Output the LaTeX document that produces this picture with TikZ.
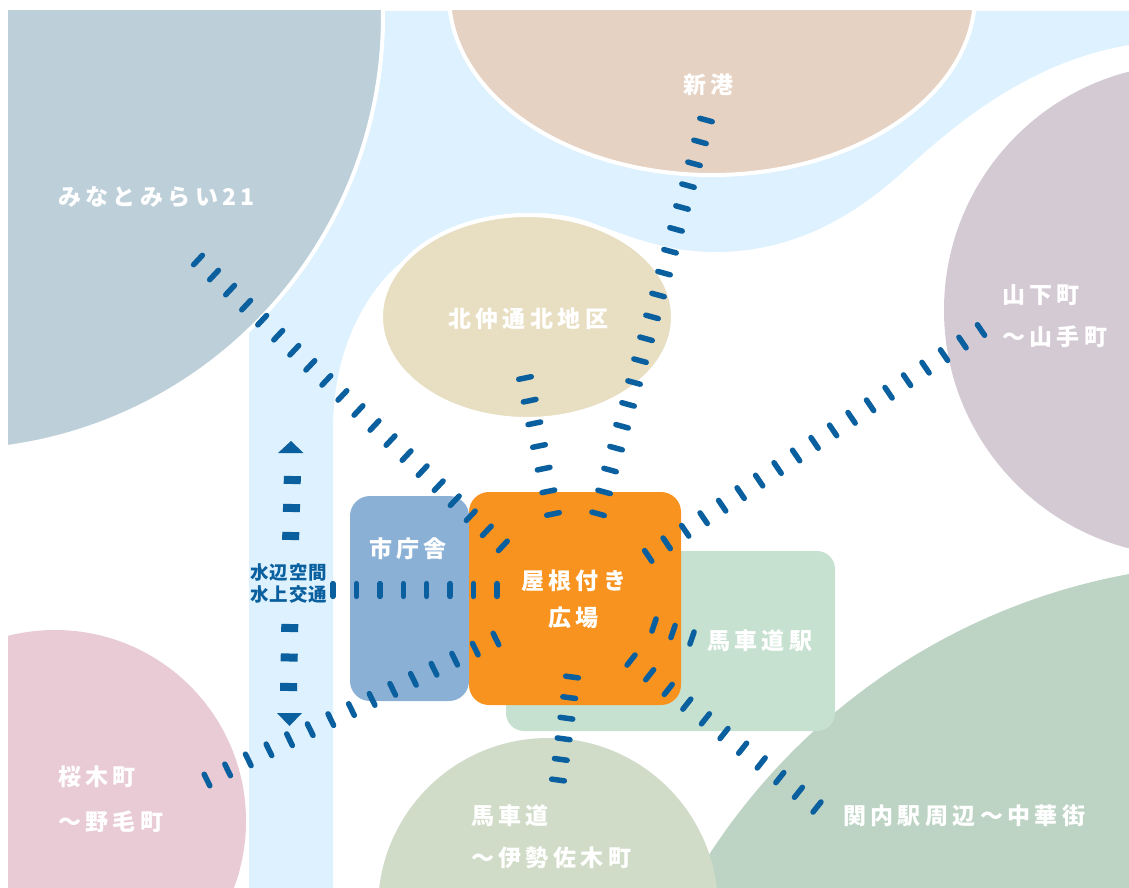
\documentclass[tikz,border=0pt]{standalone}
\usepackage{fontspec}
\usetikzlibrary{decorations.markings}
\newfontfamily\jplabel[LetterSpace=19]{Noto Sans CJK JP}
\newfontfamily\jpwater[LetterSpace=5]{Noto Sans CJK JP}
\definecolor{riverblue}{HTML}{DDF1FE}
\definecolor{mmcol}{HTML}{BDCFD9}
\definecolor{portcol}{HTML}{E6D2C2}
\definecolor{northcol}{HTML}{E8DEC2}
\definecolor{hillcol}{HTML}{D4CAD4}
\definecolor{pinkcol}{HTML}{E8CBD4}
\definecolor{stationcol}{HTML}{C7E1D1}
\definecolor{kannaicol}{HTML}{BDD4C5}
\definecolor{bashacol}{HTML}{D1DCC8}
\definecolor{hallcol}{HTML}{8AB0D5}
\definecolor{plazacol}{HTML}{F7931E}
\definecolor{tiecol}{HTML}{0A5F9E}
\tikzset{
	area/.style={draw=white, line width=4pt},
	block/.style={rounded corners=20pt},
	lbl/.style={text=white, inner sep=0pt, font=\jplabel\bfseries\fontsize{23}{23}\selectfont},
	wlbl/.style={text=tiecol, inner sep=0pt, font=\jpwater\bfseries\fontsize{18.5}{18.5}\selectfont},
	ties/.style={decoration={markings, mark=between positions 0 and 1 step {1/#1-0.00001} with {\draw[tiecol, line width=5.5pt, line cap=round] (0,-6.4) -- (0,6.4);}}, postaction={decorate}},
	wdash/.style={tiecol, line width=17pt},
}
\begin{document}
\begin{tikzpicture}[x=1pt,y=-1pt]
	\useasboundingbox (0,0) rectangle (1129,888);
	\begin{scope}
		\clip (8,11) rectangle (1129,888);
		\fill[riverblue] (249,888) -- (249,11) -- (1129,11) -- (1129,45)
			.. controls (1040,60) and (970,110) .. (905,170)
			.. controls (850,220) and (790,252) .. (715,252)
			.. controls (665,252) and (625,235) .. (590,222)
			.. controls (570,215) and (550,213) .. (530,213)
			.. controls (460,213) and (410,250) .. (383,280)
			.. controls (350,320) and (333,370) .. (333,430) -- (333,888) -- cycle;
		\draw[area, fill=mmcol] (-52,16) circle [radius=435];
		\draw[area, fill=portcol] (712,-5) ellipse [x radius=263, y radius=180];
		\draw[area, fill=northcol] (527,317) ellipse [x radius=146, y radius=102];
		\fill[hillcol] (1190,310) circle [radius=246];
		\fill[pinkcol] (55,821) circle [radius=191];
		\fill[kannaicol] (1244.6,1201.6) circle [radius=638];
		\fill[bashacol] (548,908) circle [radius=170];
		\fill[stationcol, rounded corners=18pt] (506,551) rectangle (835,731);
		\fill[hallcol, block] (350,496) rectangle (469,701);
		\fill[plazacol, block] (469,492) rectangle (681,705);
	\end{scope}
	
	\coordinate (mmEnd) at (198,260);
	\coordinate (mmHub) at (503,546);
	\coordinate (portEnd) at (706,120);
	\coordinate (portHub) at (598,514);
	\coordinate (northEnd) at (525,378);
	\coordinate (northHub) at (553,514);
	\coordinate (hillEnd) at (981,330);
	\coordinate (hillHub) at (648,556);
	\coordinate (stationEnd) at (692,638);
	\coordinate (stationHub) at (654,625);
	\coordinate (kannaiEnd) at (817,807);
	\coordinate (kannaiHub) at (631,660);
	\coordinate (bashaEnd) at (558,780);
	\coordinate (bashaHub) at (572,677);
	\coordinate (pinkEnd) at (207,780);
	\coordinate (pinkHub) at (496,639);
	\coordinate (waterEnd) at (333,590);
	\coordinate (waterHub) at (497,590);
	\path[ties=19] (mmEnd) -- (mmHub);
	\path[ties=18] (portEnd) -- (portHub);
	\path[ties=6] (northEnd) -- (northHub);
	\path[ties=18] (hillEnd) -- (hillHub);
	\path[ties=2] (stationEnd) -- (stationHub);
	\path[ties=10] (kannaiEnd) -- (kannaiHub);
	\path[ties=5] (bashaEnd) -- (bashaHub);
	\path[ties=14] (pinkEnd) -- (pinkHub);
	\path[ties=7] (waterEnd) -- (waterHub);
	
	\coordinate (upA) at (292.4,476);
	\coordinate (upB) at (290.6,540);
	\coordinate (downA) at (289.8,624);
	\coordinate (downB) at (288.6,691);
	\draw[wdash, dash pattern=on 8pt off 20pt] (upA) -- (upB);
	\draw[wdash, dash pattern=on 8pt off 21.5pt] (downA) -- (downB);
	\fill[tiecol] (278,453) -- (291,441) -- (303.5,453) -- cycle;
	\fill[tiecol] (277,713) -- (289.5,726) -- (302,713) -- cycle;
	
	\node[lbl, anchor=west] (mm) at (58,197) {みなとみらい21};
	\node[lbl, anchor=west] (port) at (683,85) {新港};
	\node[lbl, anchor=west] (north) at (448,319) {北仲通北地区};
	\node[lbl, anchor=west] (hillA) at (1002,295) {山下町};
	\node[lbl, anchor=west] (hillB) at (1002,337) {～山手町};
	\node[lbl, anchor=west] (hall) at (369,549) {市庁舎};
	\node[lbl, anchor=west] (plazaA) at (521,581) {屋根付き};
	\node[lbl, anchor=west] (plazaB) at (548,618) {広場};
	\node[lbl, anchor=west] (station) at (707,641) {馬車道駅};
	\node[lbl, anchor=west] (pinkA) at (58,777) {桜木町};
	\node[lbl, anchor=west] (pinkB) at (58,822) {～野毛町};
	\node[lbl, anchor=west] (bashaA) at (471,816) {馬車道};
	\node[lbl, anchor=west] (bashaB) at (471,858) {～伊勢佐木町};
	\node[lbl, anchor=west] (kannai) at (843,816) {関内駅周辺～中華街};
	\node[wlbl, anchor=west] (waterA) at (250,572) {水辺空間};
	\node[wlbl, anchor=west] (waterB) at (250,594) {水上交通};
\end{tikzpicture}
\end{document}
